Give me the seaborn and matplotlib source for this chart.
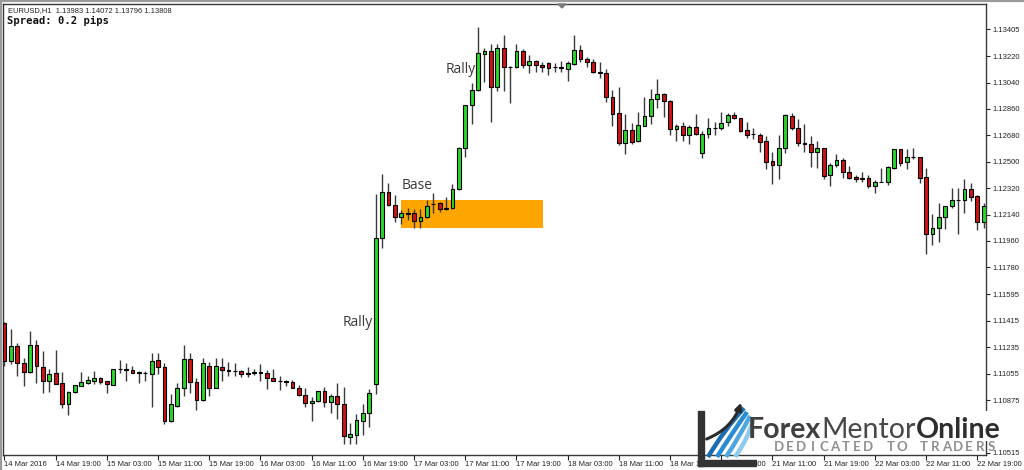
import matplotlib
matplotlib.use("Agg")
import numpy as np
import pandas as pd
import seaborn as sns
import matplotlib.pyplot as plt
from matplotlib.patches import Rectangle, Polygon, FancyArrowPatch, PathPatch
from matplotlib.path import Path
from matplotlib.lines import Line2D

# ---------------- data (EURUSD H1) ----------------
opens = [1.11402, 1.11143, 1.11243, 1.11129, 1.11064, 1.11252, 1.11102, 1.11007, 1.11057, 1.10989,
         1.10848, 1.10927, 1.10973, 1.10993, 1.11005, 1.11027, 1.11003, 1.10979, 1.11084, 1.11088,
         1.11082, 1.11064, 1.11060, 1.11050, 1.11146, 1.11102, 1.10730, 1.10836, 1.10959, 1.11153,
         1.10998, 1.10872, 1.11107, 1.10959, 1.11102, 1.11078, 1.11074, 1.11071, 1.11050, 1.11062,
         1.11064, 1.11059, 1.11025, 1.11005, 1.11003, 1.10998, 1.10959, 1.10907, 1.10854, 1.10866,
         1.10936, 1.10863, 1.10902, 1.10846, 1.10625, 1.10638, 1.10735, 1.10784, 1.10984, 1.11983,
         1.12294, 1.12205, 1.12125, 1.12148, 1.12148, 1.12096, 1.12121, 1.12210, 1.12217, 1.12176,
         1.12182, 1.12316, 1.12596, 1.12885, 1.12989, 1.13235, 1.13257, 1.13010, 1.13278, 1.13148,
         1.13148, 1.13257, 1.13160, 1.13187, 1.13160, 1.13177, 1.13146, 1.13148, 1.13130, 1.13166,
         1.13262, 1.13201, 1.13182, 1.13114, 1.13103, 1.12939, 1.12830, 1.12626, 1.12714, 1.12641,
         1.12744, 1.12814, 1.12928, 1.12962, 1.12914, 1.12721, 1.12744, 1.12682, 1.12739, 1.12562,
         1.12687, 1.12730, 1.12732, 1.12769, 1.12817, 1.12796, 1.12714, 1.12687, 1.12682, 1.12641,
         1.12505, 1.12478, 1.12592, 1.12814, 1.12732, 1.12626, 1.12624, 1.12564, 1.12592, 1.12412,
         1.12478, 1.12512, 1.12432, 1.12394, 1.12385, 1.12387, 1.12337, 1.12362, 1.12364, 1.12455,
         1.12585, 1.12496, 1.12532, 1.12530, 1.12394, 1.12005, 1.12046, 1.12121, 1.12198, 1.12237,
         1.12239, 1.12312, 1.12268, 1.12087]
highs = [1.11405, 1.11357, 1.11262, 1.11164, 1.11346, 1.11284, 1.11209, 1.11084, 1.11214, 1.11066,
         1.10936, 1.10979, 1.11066, 1.11039, 1.11073, 1.11034, 1.11005, 1.11084, 1.11148, 1.11127,
         1.11107, 1.11073, 1.11071, 1.11196, 1.11196, 1.11129, 1.10914, 1.10993, 1.11248, 1.11198,
         1.11025, 1.11161, 1.11132, 1.11164, 1.11159, 1.11134, 1.11125, 1.11078, 1.11102, 1.11084,
         1.11118, 1.11078, 1.11084, 1.11041, 1.11009, 1.11011, 1.10975, 1.10957, 1.10893, 1.10936,
         1.10966, 1.10914, 1.10993, 1.10964, 1.10716, 1.10778, 1.10846, 1.10948, 1.12280, 1.12414,
         1.12355, 1.12273, 1.12173, 1.12187, 1.12178, 1.12180, 1.12239, 1.12289, 1.12227, 1.12262,
         1.12346, 1.12600, 1.12890, 1.13035, 1.13417, 1.13278, 1.13303, 1.13303, 1.13366, 1.13153,
         1.13303, 1.13267, 1.13228, 1.13194, 1.13182, 1.13182, 1.13175, 1.13189, 1.13187, 1.13364,
         1.13296, 1.13212, 1.13199, 1.13178, 1.13130, 1.12987, 1.13010, 1.12823, 1.12766, 1.12837,
         1.12944, 1.12996, 1.13062, 1.12967, 1.12918, 1.12757, 1.12773, 1.12751, 1.12823, 1.12710,
         1.12796, 1.12773, 1.12837, 1.12830, 1.12837, 1.12800, 1.12769, 1.12728, 1.12698, 1.12676,
         1.12568, 1.12682, 1.12826, 1.12834, 1.12791, 1.12755, 1.12676, 1.12643, 1.12596, 1.12489,
         1.12551, 1.12523, 1.12471, 1.12410, 1.12432, 1.12410, 1.12375, 1.12455, 1.12471, 1.12589,
         1.12589, 1.12585, 1.12596, 1.12534, 1.12455, 1.12142, 1.12217, 1.12200, 1.12323, 1.12323,
         1.12380, 1.12357, 1.12271, 1.12217]
lows = [1.11107, 1.11120, 1.11041, 1.10973, 1.11057, 1.10993, 1.10921, 1.10927, 1.10986, 1.10823,
        1.10771, 1.10925, 1.10968, 1.10986, 1.10986, 1.10984, 1.10925, 1.10975, 1.11057, 1.11007,
        1.11057, 1.10991, 1.11007, 1.10829, 1.11050, 1.10709, 1.10727, 1.10829, 1.10902, 1.10925,
        1.10807, 1.10868, 1.10904, 1.10957, 1.11007, 1.11037, 1.11041, 1.11034, 1.11030, 1.11045,
        1.11003, 1.10948, 1.11003, 1.10943, 1.10968, 1.10955, 1.10900, 1.10829, 1.10734, 1.10861,
        1.10829, 1.10784, 1.10745, 1.10575, 1.10575, 1.10575, 1.10638, 1.10693, 1.10916, 1.11915,
        1.12200, 1.12087, 1.12075, 1.12103, 1.12046, 1.12046, 1.12118, 1.12148, 1.12159, 1.12171,
        1.12180, 1.12307, 1.12534, 1.12755, 1.12984, 1.13046, 1.12773, 1.12982, 1.12986, 1.12899,
        1.13137, 1.13137, 1.13102, 1.13110, 1.13114, 1.13095, 1.13114, 1.13114, 1.13053, 1.13160,
        1.13180, 1.13148, 1.13107, 1.13069, 1.12905, 1.12744, 1.12614, 1.12551, 1.12619, 1.12637,
        1.12744, 1.12755, 1.12864, 1.12807, 1.12682, 1.12641, 1.12641, 1.12619, 1.12682, 1.12528,
        1.12664, 1.12682, 1.12716, 1.12744, 1.12789, 1.12705, 1.12664, 1.12652, 1.12568, 1.12450,
        1.12346, 1.12380, 1.12562, 1.12716, 1.12607, 1.12568, 1.12462, 1.12459, 1.12382, 1.12337,
        1.12466, 1.12391, 1.12380, 1.12360, 1.12360, 1.12319, 1.12285, 1.12360, 1.12341, 1.12450,
        1.12471, 1.12448, 1.12519, 1.12357, 1.11871, 1.11932, 1.11955, 1.12039, 1.12182, 1.12005,
        1.12152, 1.12232, 1.12034, 1.12050]
closes = [1.11143, 1.11243, 1.11125, 1.11064, 1.11252, 1.11107, 1.11007, 1.11054, 1.10986, 1.10848,
          1.10930, 1.10977, 1.10996, 1.11013, 1.11027, 1.11000, 1.10984, 1.11084, 1.11088, 1.11082,
          1.11061, 1.11062, 1.11058, 1.11141, 1.11102, 1.10730, 1.10846, 1.10959, 1.11153, 1.11000,
          1.10872, 1.11127, 1.10955, 1.11105, 1.11078, 1.11076, 1.11072, 1.11050, 1.11061, 1.11064,
          1.11062, 1.11025, 1.11003, 1.11003, 1.11001, 1.10957, 1.10907, 1.10854, 1.10868, 1.10936,
          1.10863, 1.10902, 1.10846, 1.10627, 1.10643, 1.10739, 1.10786, 1.10926, 1.11983, 1.12296,
          1.12203, 1.12125, 1.12148, 1.12146, 1.12096, 1.12121, 1.12200, 1.12213, 1.12176, 1.12184,
          1.12316, 1.12596, 1.12885, 1.12989, 1.13240, 1.13257, 1.13010, 1.13274, 1.13148, 1.13146,
          1.13257, 1.13160, 1.13187, 1.13160, 1.13148, 1.13137, 1.13148, 1.13137, 1.13171, 1.13260,
          1.13199, 1.13182, 1.13114, 1.13103, 1.12939, 1.12823, 1.12626, 1.12714, 1.12637, 1.12751,
          1.12812, 1.12928, 1.12962, 1.12914, 1.12721, 1.12744, 1.12682, 1.12739, 1.12687, 1.12687,
          1.12728, 1.12732, 1.12766, 1.12819, 1.12796, 1.12712, 1.12682, 1.12689, 1.12637, 1.12496,
          1.12478, 1.12592, 1.12819, 1.12732, 1.12626, 1.12624, 1.12564, 1.12592, 1.12405, 1.12478,
          1.12512, 1.12432, 1.12387, 1.12380, 1.12387, 1.12337, 1.12360, 1.12364, 1.12462, 1.12585,
          1.12489, 1.12530, 1.12534, 1.12391, 1.12005, 1.12050, 1.12121, 1.12198, 1.12239, 1.12241,
          1.12312, 1.12262, 1.12087, 1.12198]

x_tick_bars = list(range(0, 154, 8))
x_tick_labels = ["14 Mar 2016", "14 Mar 19:00", "15 Mar 03:00", "15 Mar 11:00", "15 Mar 19:00",
                 "16 Mar 03:00", "16 Mar 11:00", "16 Mar 19:00", "17 Mar 03:00", "17 Mar 11:00",
                 "17 Mar 19:00", "18 Mar 03:00", "18 Mar 11:00", "18 Mar 19:00", "21 Mar 03:00",
                 "21 Mar 11:00", "21 Mar 19:00", "22 Mar 03:00", "22 Mar 11:00", "22 Mar 19:00"]
y_tick_values = [1.13405, 1.13220, 1.13040, 1.12860, 1.12680, 1.12500, 1.12320, 1.12140, 1.11960,
                 1.11780, 1.11595, 1.11415, 1.11235, 1.11055, 1.10875, 1.10695, 1.10515]
y_tick_labels = [f"{v:.5f}" for v in y_tick_values]
hidden_y_label = "1.10695"   # covered by the watermark in the picture

zone_bars = [61.9, 84.1]
zone_prices = [1.12046, 1.12239]
annot_texts = ["Base", "Rally", "Rally"]
annot_bars = [62.0, 52.9, 69.0]
annot_prices = [1.12341, 1.11404, 1.13128]

header_text = "EURUSD,H1  1.13983 1.14072 1.13796 1.13808"
spread_text = "Spread: 0.2 pips"

# ---------------- styling ----------------
sns.set_theme(style="white")
plt.rcParams["font.family"] = ["Liberation Sans", "DejaVu Sans"]

W, H = 1024, 470
fig = plt.figure(figsize=(W / 100, H / 100), dpi=100)
fig.patch.set_facecolor("white")
ax = fig.add_axes([3 / W, 15 / H, 983 / W, 451 / H])
ax.set_facecolor("white")

df = pd.DataFrame(dict(bar=np.arange(len(opens)), open=opens, high=highs, low=lows, close=closes))
df["bottom"] = df[["open", "close"]].min(axis=1)
df["height"] = (df["close"] - df["open"]).abs().clip(lower=0.000012)
df["color"] = np.where(df["close"] > df["open"], "#2ad62a",
                       np.where(df["close"] < df["open"], "#d01414", "#000000"))

ax.add_patch(Rectangle((zone_bars[0], zone_prices[0]), zone_bars[1] - zone_bars[0],
                       zone_prices[1] - zone_prices[0], facecolor="#ffa500", edgecolor="none", zorder=1))
ax.vlines(df["bar"], df["low"], df["high"], color="#3a3a3a", lw=1.0, zorder=2)
ax.bar(df["bar"], df["height"], bottom=df["bottom"], width=0.62, color=df["color"],
       edgecolor="#000000", linewidth=0.8, zorder=3)

for t, b, p in zip(annot_texts, annot_bars, annot_prices):
    ax.text(b, p, t, fontsize=10, color="#3a3a3a", ha="left", va="center",
            family=["Open Sans", "DejaVu Sans"], zorder=4)

ax.set_xlim(-0.234, 153.36)
ax.set_ylim(1.10500, 1.13576)
ax.set_xticks(x_tick_bars)
ax.set_xticklabels(x_tick_labels, ha="left", fontsize=5.5)
ax.yaxis.tick_right()
ax.set_yticks(y_tick_values)
ax.set_yticklabels([("" if l == hidden_y_label else l) for l in y_tick_labels], fontsize=5.5)
ax.tick_params(axis="x", bottom=True, direction="out", length=3.5, width=0.8, pad=1, colors="#222222")
ax.tick_params(axis="y", right=True, left=False, direction="out", length=3, width=0.8, pad=2,
               colors="#222222")
ax.grid(False)
for s in ax.spines.values():
    s.set_visible(True)
    s.set_color("#3a3a3a")
    s.set_linewidth(1.0)

tf = fig.transFigure


def fp(px, py):
    return (px / W, 1 - py / H)


# header texts
fig.text(8 / W, 1 - 11 / H, header_text, fontsize=5.4, color="#222222", ha="left", va="center",
         family=["Liberation Sans", "DejaVu Sans"])
fig.text(7 / W, 1 - 20.7 / H, spread_text, fontsize=7.6, weight="bold", color="#111111",
         ha="left", va="center", family=["DejaVu Sans Mono"])

# window borders / chart shift marker
fig.add_artist(Line2D([0, 1], [1 - 0.8 / H] * 2, transform=tf, color="#9a9a9a", lw=1.6))
fig.add_artist(Line2D([0.8 / W] * 2, [0, 1], transform=tf, color="#9a9a9a", lw=1.6))
fig.add_artist(Polygon([fp(558, 4), fp(566, 4), fp(562, 8)], closed=True, transform=tf,
                       color="#7a7a7a", zorder=5))

# watermark logo
fig.add_artist(Rectangle(fp(745, 441), (W - 745) / W, 30 / H, transform=tf, facecolor="white",
                         edgecolor="none", zorder=4))
fig.add_artist(Rectangle(fp(698, 466), 6 / W, 55 / H, transform=tf, color="#333333", zorder=5))
fig.add_artist(Rectangle(fp(698, 466), 58 / W, 6 / H, transform=tf, color="#333333", zorder=5))
for k, col in enumerate(["#1b6db0", "#2a8bd2", "#4fa6e0", "#8ccbef"]):
    p0 = fp(708 + 9 * k, 457)
    p1 = fp(724 + 8 * k, 430 + 3 * k)
    p2 = fp(744 + 3 * k, 408 + 4 * k)
    path = Path([p0, p1, p2], [Path.MOVETO, Path.CURVE3, Path.CURVE3])
    fig.add_artist(PathPatch(path, transform=tf, fill=False, edgecolor=col, lw=3.2, zorder=5))
fig.add_artist(FancyArrowPatch(fp(704, 440), fp(742, 400), transform=tf,
                               connectionstyle="arc3,rad=0.25", arrowstyle="-|>",
                               mutation_scale=10, color="#2b2b2b", lw=2.2, zorder=6))

renderer = fig.canvas.get_renderer()
parts = [("Forex", "bold", "#404040"), ("Mentor", "normal", "#484848"), ("Online", "bold", "#2e2e2e")]


def total_width(size):
    w = 0
    for s, wt, c in parts:
        t = fig.text(0, 0, s, fontsize=size, weight=wt, family=["Lato", "DejaVu Sans"])
        w += t.get_window_extent(renderer).width
        t.remove()
    return w


size = 21 * 252 / total_width(21)
xcur = 748
for s, wt, c in parts:
    t = fig.text(xcur / W, 1 - 438 / H, s, fontsize=size, weight=wt, color=c,
                 family=["Lato", "DejaVu Sans"], ha="left", va="baseline", zorder=6)
    xcur += t.get_window_extent(renderer).width

for i, ch in enumerate("DEDICATED TO TRADERS"):
    fig.text((779 + i * 11.16) / W, 1 - 447 / H, ch, fontsize=9.5, color="#8e8e8e", weight="bold",
             family=["Lato", "DejaVu Sans"], ha="center", va="center", zorder=6)

fig.savefig("out.png", dpi=100)
